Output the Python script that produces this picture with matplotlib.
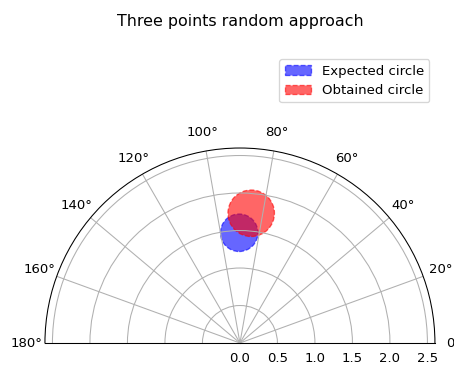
import matplotlib.pyplot as plt
import numpy as np

# circle centres (cartesian, in radius units) and radii
expected_center = [-0.01, 1.47]
expected_radius = 0.25
obtained_center = [0.15, 1.73]
obtained_radius = 0.31
r_ticks = [0.0, 0.5, 1.0, 1.5, 2.0, 2.5]


def main():
    dpi = 95
    fig = plt.figure(figsize=(454 / dpi, 366 / dpi), dpi=dpi)
    # square box; the half disc sits in its vertical middle
    ax = fig.add_axes([0.099, -0.2036, 0.859, 1.0656], projection='polar')
    ax.set_thetamin(0)
    ax.set_thetamax(180)
    ax.set_rmax(2.6)
    ax.set_rticks(r_ticks)
    ax.set_thetagrids(np.arange(0, 181, 20))

    expected = plt.Circle(expected_center, expected_radius, transform=ax.transData._b,
                          color='blue', alpha=0.6, linestyle='--', label='Expected circle')
    obtained = plt.Circle(obtained_center, obtained_radius, transform=ax.transData._b,
                          color='red', alpha=0.6, linestyle='--', label='Obtained circle')
    ax.add_patch(expected)
    ax.add_patch(obtained)
    ax.set_rmax(2.6)

    fig.suptitle('Three points random approach', x=0.53, y=0.963, fontsize=12)
    fig.legend(handles=[expected, obtained], loc='upper right', bbox_to_anchor=(0.96, 0.856))
    fig.savefig('out.png', dpi=dpi)


if __name__ == '__main__':
    main()
